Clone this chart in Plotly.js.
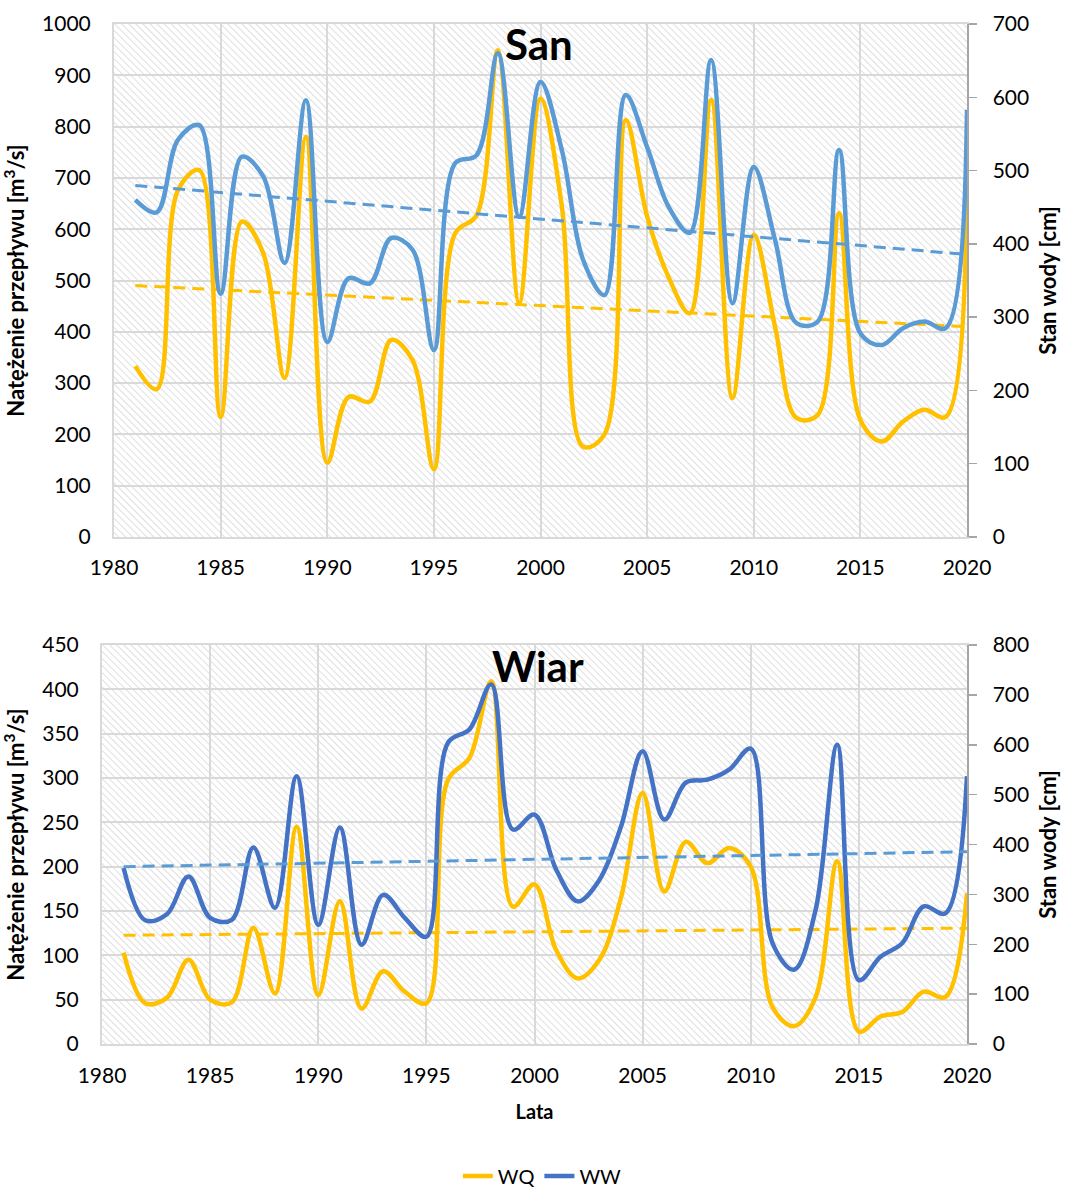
<!DOCTYPE html>
<html>
<head>
<meta charset="utf-8">
<script src="https://cdn.plot.ly/plotly-3.0.1.min.js"></script>
<style>
html,body{margin:0;padding:0;background:#fff;}
#chart{width:1074px;height:1192px;}
</style>
</head>
<body>
<div id="chart"></div>
<script>
// ---- data ----
var years = [1981,1982,1983,1984,1985,1986,1987,1988,1989,1990,
             1991,1992,1993,1994,1995,1996,1997,1998,1999,2000,
             2001,2002,2003,2004,2005,2006,2007,2008,2009,2010,
             2011,2012,2013,2014,2015,2016,2017,2018,2019,2020];

// San
var sanWQ = [333,288,676,715,234,615,553,310,780,145,
             273,264,384,345,132,592,627,949,456,855,
             645,176,200,813,625,507,436,852,271,589,
             410,232,238,631,228,186,225,248,234,729];
var sanWW = [460,443,542,562,332,519,492,374,596,266,
             353,346,408,392,255,510,521,660,437,621,
             528,378,330,603,532,451,415,651,319,505,
             405,292,294,528,278,262,285,294,285,583];

// Wiar
var wiarWQ = [103,46,52,95,50,47,131,57,245,55,
              161,40,82,59,46,298,323,409,155,180,
              106,74,95,165,283,172,228,204,221,200,
              42,20,53,206,14,31,36,59,53,170];
var wiarWW = [353,248,260,336,253,249,394,273,537,239,
              434,199,299,253,215,604,631,721,430,460,
              350,286,329,436,587,450,524,530,550,592,
              203,149,269,600,128,175,202,276,262,537];

var seriesNames = ['WQ','WW'];
var xTicks = [1980,1985,1990,1995,2000,2005,2010,2015,2020];

// ---- helpers ----
function linTrend(xs, ys){
  var n = xs.length, sx=0, sy=0, sxx=0, sxy=0;
  for (var i=0;i<n;i++){ sx+=xs[i]; sy+=ys[i]; sxx+=xs[i]*xs[i]; sxy+=xs[i]*ys[i]; }
  var b = (n*sxy - sx*sy)/(n*sxx - sx*sx);
  var a = (sy - b*sx)/n;
  return xs.map(function(x){ return a + b*x; });
}

var YEL = '#FFC000', LBLUE = '#5B9BD5', DBLUE = '#4472C4';
var GRID = '#d9d9d9';
var FONT = 'Lato, "Open Sans", sans-serif';

function hatch(w, h){
  var svg = '<svg xmlns="http://www.w3.org/2000/svg" width="'+w+'" height="'+h+'">' +
    '<defs><pattern id="p" width="5" height="5" patternUnits="userSpaceOnUse" patternTransform="rotate(-45)">' +
    '<rect width="5" height="5" fill="#ffffff"/>' +
    '<line x1="0" y1="0" x2="0" y2="5" stroke="#d2d2d2" stroke-width="1.4"/></pattern></defs>' +
    '<rect width="'+w+'" height="'+h+'" fill="url(#p)"/></svg>';
  return 'data:image/svg+xml;charset=utf-8,' + encodeURIComponent(svg);
}

var W = 1074, H = 1192;
// pixel geometry of the two plot areas
var gTop = {l:114, r:967, t:24, b:537};
var gBot = {l:102, r:967, t:645, b:1044};
function dx(a,b){ return [a/W, b/W]; }
function dy(t,b){ return [1-b/H, 1-t/H]; }

var traces = [
  // San
  {x:years, y:sanWQ, xaxis:'x', yaxis:'y', type:'scatter', mode:'lines', name:seriesNames[0],
   line:{color:YEL, width:4.5, shape:'spline', smoothing:1}, showlegend:false},
  {x:years, y:sanWW, xaxis:'x', yaxis:'y2', type:'scatter', mode:'lines', name:seriesNames[1],
   line:{color:LBLUE, width:4.5, shape:'spline', smoothing:1}, showlegend:false},
  {x:years, y:linTrend(years, sanWQ), xaxis:'x', yaxis:'y', type:'scatter', mode:'lines', name:'trend WQ',
   line:{color:YEL, width:3, dash:'12px,7px'}, showlegend:false},
  {x:years, y:linTrend(years, sanWW), xaxis:'x', yaxis:'y2', type:'scatter', mode:'lines', name:'trend WW',
   line:{color:LBLUE, width:3, dash:'12px,7px'}, showlegend:false},
  // Wiar
  {x:years, y:wiarWQ, xaxis:'x2', yaxis:'y3', type:'scatter', mode:'lines', name:seriesNames[0],
   line:{color:YEL, width:4.5, shape:'spline', smoothing:1}, showlegend:true},
  {x:years, y:wiarWW, xaxis:'x2', yaxis:'y4', type:'scatter', mode:'lines', name:seriesNames[1],
   line:{color:DBLUE, width:4.5, shape:'spline', smoothing:1}, showlegend:true},
  {x:years, y:linTrend(years, wiarWQ), xaxis:'x2', yaxis:'y3', type:'scatter', mode:'lines', name:'trend WQ',
   line:{color:YEL, width:3, dash:'12px,7px'}, showlegend:false},
  {x:years, y:linTrend(years, wiarWW), xaxis:'x2', yaxis:'y4', type:'scatter', mode:'lines', name:'trend WW',
   line:{color:LBLUE, width:3, dash:'12px,7px'}, showlegend:false}
];

var tickFont = {family:FONT, size:21, color:'#000'};
var titleFont = {family:FONT, size:22, color:'#000', weight:'bold'};

function xAxis(dom, anchor, standoff, title){
  var a = {domain:dom, anchor:anchor, range:[1980,2020], tickmode:'array', tickvals:xTicks,
    showgrid:true, gridcolor:GRID, gridwidth:2, zeroline:false,
    showline:true, linecolor:GRID, linewidth:2, mirror:true, ticks:'',
    tickfont:tickFont, ticklabelstandoff:standoff, fixedrange:true};
  if (title) a.title = {text:title, font:{family:FONT, size:20, color:'#000', weight:'bold'}, standoff:19};
  return a;
}
function yLeft(dom, anchor, range, dtick, title){
  return {domain:dom, anchor:anchor, range:range, dtick:dtick, tick0:0,
    showgrid:true, gridcolor:GRID, gridwidth:2, zeroline:false,
    showline:true, linecolor:GRID, linewidth:2, mirror:true, ticks:'',
    tickfont:tickFont, ticklabelstandoff:17,
    title:{text:title, font:titleFont, standoff:12}};
}
function yRight(over, anchor, range, title){
  return {overlaying:over, anchor:anchor, side:'right', range:range, dtick:100, tick0:0,
    showgrid:false, zeroline:false, showline:true, linecolor:'#a6a6a6', linewidth:1.5,
    ticks:'outside', ticklen:8, tickcolor:'#a6a6a6', tickwidth:1.5,
    tickfont:tickFont, ticklabelstandoff:12,
    title:{text:title, font:titleFont, standoff:12}};
}

var layout = {
  width:W, height:H,
  margin:{l:0, r:0, t:0, b:0, autoexpand:false},
  paper_bgcolor:'#ffffff', plot_bgcolor:'rgba(0,0,0,0)',
  font:{family:FONT, color:'#000'},
  showlegend:true,
  legend:{orientation:'h', x:0.505, xanchor:'center', y:1-1176/H, yanchor:'middle',
          font:{family:FONT, size:20, color:'#000'}, bgcolor:'rgba(0,0,0,0)', traceorder:'normal'},
  xaxis: xAxis(dx(gTop.l, gTop.r), 'y', 11, null),
  yaxis: yLeft(dy(gTop.t, gTop.b), 'x', [0,1000], 100, 'Natężenie przepływu [m<sup>3</sup>/s]'),
  yaxis2: yRight('y', 'x', [0,700], 'Stan wody [cm]'),
  xaxis2: xAxis(dx(gBot.l, gBot.r), 'y3', 12, 'Lata'),
  yaxis3: yLeft(dy(gBot.t, gBot.b), 'x2', [0,450], 50, 'Natężenie przepływu [m<sup>3</sup>/s]'),
  yaxis4: yRight('y3', 'x2', [0,800], 'Stan wody [cm]'),
  images:[
    {source:hatch(gTop.r-gTop.l, gTop.b-gTop.t), xref:'paper', yref:'paper',
     x:gTop.l/W, y:1-gTop.t/H, sizex:(gTop.r-gTop.l)/W, sizey:(gTop.b-gTop.t)/H,
     xanchor:'left', yanchor:'top', sizing:'stretch', layer:'below'},
    {source:hatch(gBot.r-gBot.l, gBot.b-gBot.t), xref:'paper', yref:'paper',
     x:gBot.l/W, y:1-gBot.t/H, sizex:(gBot.r-gBot.l)/W, sizey:(gBot.b-gBot.t)/H,
     xanchor:'left', yanchor:'top', sizing:'stretch', layer:'below'}
  ],
  annotations:[
    {text:'<b>San</b>', xref:'paper', yref:'paper', x:539/W, y:1-44/H, xanchor:'center', yanchor:'middle',
     showarrow:false, font:{family:FONT, size:42, color:'#000'}},
    {text:'<b>Wiar</b>', xref:'paper', yref:'paper', x:538/W, y:1-666/H, xanchor:'center', yanchor:'middle',
     showarrow:false, font:{family:FONT, size:42, color:'#000'}}
  ]
};

Plotly.newPlot('chart', traces, layout, {displayModeBar:false, staticPlot:true});
</script>
</body>
</html>
